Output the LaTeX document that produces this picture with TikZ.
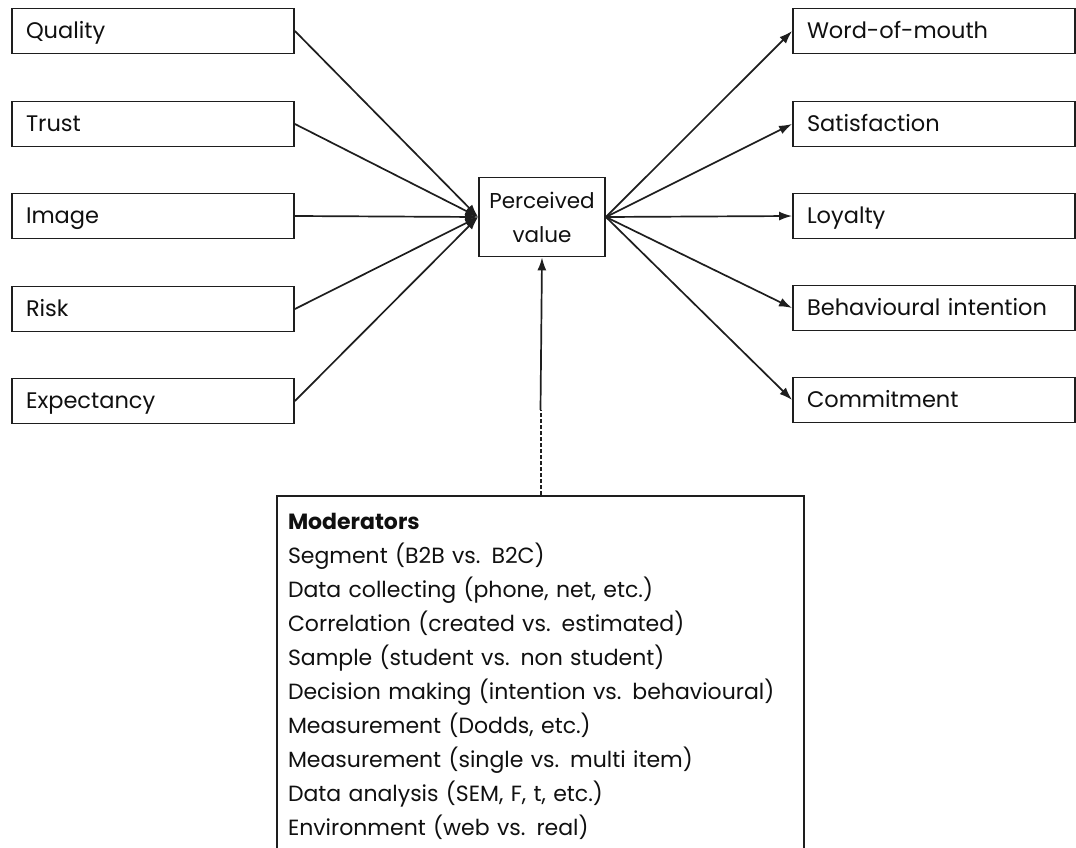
\documentclass[tikz,border=0pt]{standalone}
\usepackage{fontspec}
\setmainfont{Poppins}
\usepackage{xcolor}
\usetikzlibrary{arrows.meta}
\definecolor{LineBlack}{HTML}{1E1E1E}
\definecolor{TextBlack}{HTML}{101010}
\tikzset{
    factor/.style={
        draw=LineBlack,
        line width=1.8pt,
        fill=white,
        minimum width=282pt,
        minimum height=45pt,
        text width=254pt,
        text height=19pt,
        text depth=4pt,
        inner xsep=14pt,
        text=TextBlack,
        font=\fontsize{22.5}{24}\selectfont,
        align=left
    },
    valuebox/.style={
        draw=LineBlack,
        line width=1.8pt,
        fill=white,
        minimum width=126pt,
        minimum height=79pt,
        text=TextBlack,
        font=\fontsize{21.5}{34}\selectfont,
        align=center
    },
    modbox/.style={
        draw=LineBlack,
        line width=1.8pt,
        fill=white,
        text width=505pt,
        inner xsep=11pt,
        inner ysep=17pt,
        text=TextBlack,
        font=\fontsize{22}{34}\selectfont,
        align=left,
        anchor=north
    },
    arrow/.style={
        -{Latex[length=13pt,width=9pt]},
        line width=1.7pt,
        LineBlack
    },
    dotline/.style={
        line width=2pt,
        dash pattern=on 4pt off 2pt,
        LineBlack
    }
}
\begin{document}
\begin{tikzpicture}[x=1pt, y=-1pt]
        \clip (0,0) rectangle (1076,848);
        \fill[white] (0,0) rectangle (1076,848);

        % Antecedents
        \node[factor] (quality) at (153,31) {Quality};
        \node[factor] (trust) at (153,124) {Trust};
        \node[factor] (image) at (153,216) {Image};
        \node[factor] (risk) at (153,309) {Risk};
        \node[factor] (expect) at (153,401) {Expectancy};

        % Central construct
        \node[valuebox] (pv) at (542,217) {Perceived\\value};

        % Consequences
        \node[factor] (wom) at (934,31) {Word-of-mouth};
        \node[factor] (satis) at (934,124) {Satisfaction};
        \node[factor] (loyal) at (934,216) {Loyalty};
        \node[factor] (intent) at (934,308) {Behavioural intention};
        \node[factor] (commit) at (934,400) {Commitment};

        % Moderators
        \node[modbox] (mod) at (540.5,495) {
            \textbf{Moderators}\\
            Segment (B2B vs. B2C)\\
            Data collecting (phone, net, etc.)\\
            Correlation (created vs. estimated)\\
            Sample (student vs. non student)\\
            Decision making (intention vs. behavioural)\\
            Measurement (Dodds, etc.)\\
            Measurement (single vs. multi item)\\
            Data analysis (SEM, F, t, etc.)\\
            Environment (web vs. real)
        };
        \coordinate (modtop) at (540.5,410);

        % Arrows in
        \draw[arrow] (quality.east) -- (pv.west);
        \draw[arrow] (trust.east) -- (pv.west);
        \draw[arrow] (image.east) -- (pv.west);
        \draw[arrow] (risk.east) -- (pv.west);
        \draw[arrow] (expect.east) -- (pv.west);

        % Arrows out
        \draw[arrow] (pv.east) -- (wom.west);
        \draw[arrow] (pv.east) -- (satis.west);
        \draw[arrow] (pv.east) -- (loyal.west);
        \draw[arrow] (pv.east) -- (intent.west);
        \draw[arrow] (pv.east) -- (commit.west);

        % Moderating link
        \draw[dotline] (mod.north) -- (modtop);
        \draw[arrow] (modtop) -- (pv.south);
    \end{tikzpicture}
\end{document}
